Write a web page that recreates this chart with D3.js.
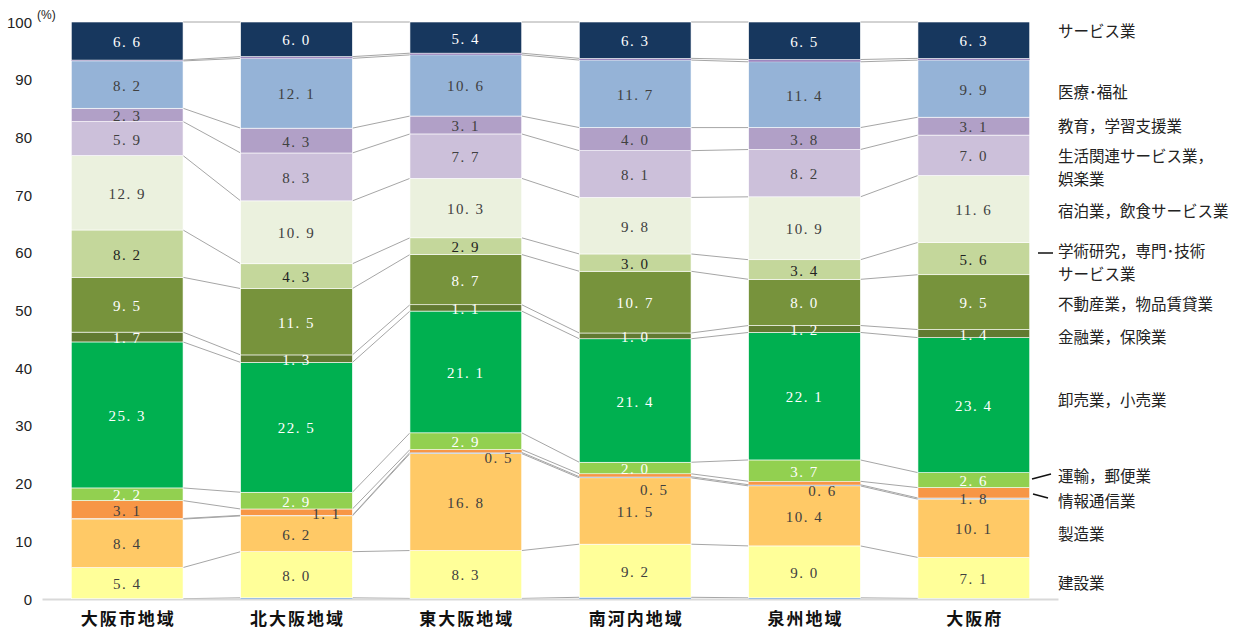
<!DOCTYPE html>
<html>
<head>
<meta charset="utf-8">
<script src="https://cdn.jsdelivr.net/npm/d3@7"></script>
<style>
  body { margin: 0; background: #fff; }
  svg { display: block; }
</style>
</head>
<body>
<svg id="chart" width="1252" height="628"></svg>
<script>
// regions (bars)
const regions = ["大阪市地域", "北大阪地域", "東大阪地域", "南河内地域", "泉州地域", "大阪府"];

// industries, bottom to top
const industries = ["農林漁業", "建設業", "製造業", "電気・ガス", "情報通信業", "運輸，郵便業", "卸売業，小売業",
  "金融業，保険業", "不動産業，物品賃貸業", "学術研究，専門・技術サービス業", "宿泊業，飲食サービス業",
  "生活関連サービス業，娯楽業", "教育，学習支援業", "医療・福祉", "複合サービス事業", "サービス業"];

// shares (%) per region, one array per industry
const agri      = [0.05, 0.2, 0.1, 0.3, 0.2, 0.1];
const construct = [5.4, 8.0, 8.3, 9.2, 9.0, 7.1];
const manuf     = [8.4, 6.2, 16.8, 11.5, 10.4, 10.1];
const energy    = [0.1, 0.1, 0.2, 0.2, 0.2, 0.2];
const infoCom   = [3.1, 1.1, 0.5, 0.5, 0.6, 1.8];
const transport = [2.2, 2.9, 2.9, 2.0, 3.7, 2.6];
const retail    = [25.3, 22.5, 21.1, 21.4, 22.1, 23.4];
const finance   = [1.7, 1.3, 1.1, 1.0, 1.2, 1.4];
const realEst   = [9.5, 11.5, 8.7, 10.7, 8.0, 9.5];
const research  = [8.2, 4.3, 2.9, 3.0, 3.4, 5.6];
const hotel     = [12.9, 10.9, 10.3, 9.8, 10.9, 11.6];
const living    = [5.9, 8.3, 7.7, 8.1, 8.2, 7.0];
const education = [2.3, 4.3, 3.1, 4.0, 3.8, 3.1];
const medical   = [8.2, 12.1, 10.6, 11.7, 11.4, 9.9];
const compound  = [0.15, 0.3, 0.3, 0.3, 0.4, 0.3];
const service   = [6.6, 6.0, 5.4, 6.3, 6.5, 6.3];

const series = [agri, construct, manuf, energy, infoCom, transport, retail, finance,
  realEst, research, hotel, living, education, medical, compound, service];

const yTicks = [0, 10, 20, 30, 40, 50, 60, 70, 80, 90, 100];

const colors = ["#8db4e2", "#ffff99", "#ffc966", "#b8cce4", "#f79646", "#92d050", "#00b050",
  "#617a31", "#77933c", "#c4d79b", "#ebf1de", "#ccc0da", "#b1a0c7", "#95b3d7", "#9d87bf", "#17375e"];
const labelColors = ["none", "#404040", "#404040", "none", "#404040", "#fff", "#fff",
  "#fff", "#fff", "#222", "#404040", "#404040", "#404040", "#404040", "none", "#fff"];

// small-segment label nudges (info & comm.)
const infoNudge = [[0, 0], [30, 1], [33, 6], [19, 14], [18, 7], [0, 5]];

// right-hand legend labels: lines, y
const legend = [
  {lines: ["サービス業"], y: 30},
  {lines: ["医療･福祉"], y: 91},
  {lines: ["教育，学習支援業"], y: 125},
  {lines: ["生活関連サービス業，", "娯楽業"], y: 155, gap: 22.5},
  {lines: ["宿泊業，飲食サービス業"], y: 210},
  {lines: ["学術研究，専門･技術", "サービス業"], y: 250, gap: 22.5, tick: [[1038, 253], [1053, 253]]},
  {lines: ["不動産業，物品賃貸業"], y: 303},
  {lines: ["金融業，保険業"], y: 336},
  {lines: ["卸売業，小売業"], y: 399},
  {lines: ["運輸，郵便業"], y: 475, tick: [[1032, 479], [1051, 474]]},
  {lines: ["情報通信業"], y: 500, tick: [[1033, 494], [1048, 498]]},
  {lines: ["製造業"], y: 533},
  {lines: ["建設業"], y: 582}
];

const svg = d3.select("#chart");

const x = d3.scaleBand()
  .domain(regions)
  .range([42.5, 1058.5])
  .paddingInner(0.34)
  .paddingOuter(0.17);

const y = d3.scaleLinear().domain([0, 100]).range([599, 22]);

// stack
const rows = regions.map((r, j) => {
  const o = {region: r};
  series.forEach((s, k) => o[k] = s[j]);
  return o;
});
const stacked = d3.stack().keys(d3.range(series.length))(rows);

// connector lines between bars
const connectors = svg.append("g");
regions.slice(0, -1).forEach((r, j) => {
  const x1 = x(r) + x.bandwidth(), x2 = x(regions[j + 1]);
  stacked.forEach(s => {
    connectors.append("line")
      .attr("x1", x1).attr("x2", x2)
      .attr("y1", y(s[j][1])).attr("y2", y(s[j + 1][1]))
      .attr("stroke", "#a6a6a6").attr("stroke-width", 1);
  });
});

// x axis line
svg.append("line")
  .attr("x1", x.range()[0]).attr("x2", x.range()[1])
  .attr("y1", y(0) + 0.5).attr("y2", y(0) + 0.5)
  .attr("stroke", "#d9d9d9").attr("stroke-width", 2);

// bars
stacked.forEach((s, k) => {
  svg.append("g").selectAll("rect")
    .data(s)
    .join("rect")
    .attr("x", d => x(d.data.region))
    .attr("width", x.bandwidth())
    .attr("y", d => y(d[1]))
    .attr("height", d => Math.max(0, y(d[0]) - y(d[1])))
    .attr("fill", colors[k])
    .attr("stroke", "#fff")
    .attr("stroke-width", d => (d[1] - d[0]) > 0.8 ? 0.6 : 0);
});

// value labels
stacked.forEach((s, k) => {
  if (labelColors[k] === "none") return;
  svg.append("g").selectAll("text")
    .data(s)
    .join("text")
    .attr("x", (d, j) => x(d.data.region) + x.bandwidth() / 2 + (k === 4 ? infoNudge[j][0] : 0))
    .attr("y", (d, j) => y((d[0] + d[1]) / 2) + (k === 4 ? infoNudge[j][1] : 0) + 1)
    .attr("text-anchor", "middle")
    .attr("dominant-baseline", "central")
    .attr("font-family", "'Liberation Serif', 'DejaVu Serif', serif")
    .attr("font-size", 15)
    .attr("letter-spacing", 1.5)
    .attr("fill", labelColors[k])
    .text(d => (d[1] - d[0]).toFixed(1).replace(".", ". "));
});

// y tick labels
svg.append("g").selectAll("text")
  .data(yTicks)
  .join("text")
  .attr("x", 32)
  .attr("y", d => y(d))
  .attr("text-anchor", "end")
  .attr("dominant-baseline", "central")
  .attr("font-family", "'Liberation Sans Narrow', 'Liberation Sans', sans-serif")
  .attr("font-size", 15)
  .attr("fill", "#222")
  .text(d => d);

svg.append("text")
  .attr("x", 37).attr("y", 19)
  .attr("font-family", "'Liberation Sans', sans-serif")
  .attr("font-size", 12)
  .attr("fill", "#222")
  .text("(%)");

// category labels
svg.append("g").selectAll("text")
  .data(regions)
  .join("text")
  .attr("x", d => x(d) + x.bandwidth() / 2 + 1)
  .attr("y", 617)
  .attr("text-anchor", "middle")
  .attr("dominant-baseline", "central")
  .attr("font-family", "'Noto Sans CJK JP', sans-serif")
  .attr("font-weight", "bold")
  .attr("font-size", 17)
  .attr("letter-spacing", 2)
  .attr("fill", "#111")
  .text(d => d);

// legend labels at right
const lg = svg.append("g");
legend.forEach(l => {
  l.lines.forEach((line, n) => {
    lg.append("text")
      .attr("x", 1058)
      .attr("y", l.y + n * (l.gap || 0))
      .attr("dominant-baseline", "central")
      .attr("font-family", "'Noto Sans CJK JP', sans-serif")
      .attr("font-size", 15.5)
      .attr("fill", "#222")
      .text(line);
  });
  if (l.tick) {
    lg.append("line")
      .attr("x1", l.tick[0][0]).attr("y1", l.tick[0][1])
      .attr("x2", l.tick[1][0]).attr("y2", l.tick[1][1])
      .attr("stroke", "#111").attr("stroke-width", 1.5);
  }
});
</script>
</body>
</html>
